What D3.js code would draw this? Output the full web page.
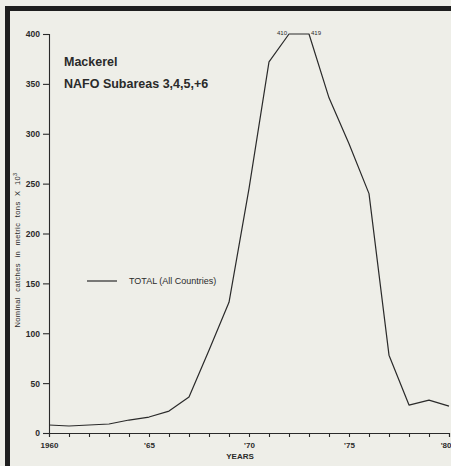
<!DOCTYPE html>
<html>
<head>
<meta charset="utf-8">
<script src="https://cdn.jsdelivr.net/npm/d3@7"></script>
<style>
  body { margin: 0; background: #eeeee8; }
  svg { display: block; font-family: "Liberation Sans", Arial, sans-serif; }
  .tick text { fill: #2a2a2a; }
</style>
</head>
<body>
<div id="chart"></div>
<script>
// values (thousand tons)
const years = [1960, 1961, 1962, 1963, 1964, 1965, 1966, 1967, 1968, 1969, 1970,
               1971, 1972, 1973, 1974, 1975, 1976, 1977, 1978, 1979, 1980];
const catches = [8, 7, 8, 9, 13, 16, 22, 36, 83, 131, 245,
                 372, 410, 419, 336, 290, 240, 78, 28, 33, 27];
const yTicks = [0, 50, 100, 150, 200, 250, 300, 350, 400];
const xLabels = { 1960: "1960", 1965: "'65", 1970: "'70", 1975: "'75", 1980: "'80" };

const width = 451, height = 466;
const ink = "#2a2a2a";
const yMax = 400;

const svg = d3.select("#chart").append("svg")
    .attr("width", width)
    .attr("height", height);

// scanned page frame (thick border left and top)
svg.append("rect").attr("x", 5).attr("y", 6).attr("width", 5).attr("height", height - 6).attr("fill", "#1e1e1e");
svg.append("rect").attr("x", 5).attr("y", 6).attr("width", width - 5).attr("height", 5).attr("fill", "#1e1e1e");

const x = d3.scaleLinear().domain([1960, 1980]).range([49, 449]);
const y = d3.scaleLinear().domain([0, yMax]).range([433, 34]);

// y axis
const yAxis = d3.axisLeft(y)
    .tickValues(yTicks)
    .tickSize(6)
    .tickPadding(3);
const gy = svg.append("g").attr("transform", `translate(${x(1960)},0)`).call(yAxis);
gy.selectAll("text").attr("font-size", 8.5).attr("font-weight", "bold").attr("dy", "0.35em");

// x axis
const xAxis = d3.axisBottom(x)
    .tickValues(years)
    .tickSize(4)
    .tickPadding(5)
    .tickFormat(d => xLabels[d] || "");
const gx = svg.append("g").attr("transform", `translate(0,${y(0)})`).call(xAxis);
gx.selectAll("text").attr("font-size", 8).attr("font-weight", "bold");
// keep the last label inside the page
gx.selectAll(".tick text").filter(d => d === 1980).attr("text-anchor", "end").attr("dx", 2);

svg.selectAll(".domain, .tick line").attr("stroke", ink).attr("stroke-width", 1.1);

// axis titles
svg.append("text")
    .attr("x", 240).attr("y", 459)
    .attr("text-anchor", "middle")
    .attr("font-size", 8).attr("font-weight", "bold")
    .attr("fill", ink)
    .text("YEARS");

const yLabel = svg.append("text")
    .attr("transform", "translate(20,250) rotate(-90)")
    .attr("text-anchor", "middle")
    .attr("font-size", 7.5)
    .attr("letter-spacing", 0.4)
    .attr("word-spacing", 3)
    .attr("fill", ink);
yLabel.append("tspan").text("Nominal catches in metric tons X 10");
yLabel.append("tspan").attr("font-size", 5.5).attr("dy", -3).text("3");

// titles
svg.append("text").attr("x", 64).attr("y", 66)
    .attr("font-size", 12.5).attr("font-weight", "bold").attr("fill", ink)
    .text("Mackerel");
svg.append("text").attr("x", 64).attr("y", 88)
    .attr("font-size", 12.5).attr("font-weight", "bold").attr("fill", ink)
    .text("NAFO Subareas 3,4,5,+6");

// legend
svg.append("line").attr("x1", 87).attr("x2", 117).attr("y1", 281).attr("y2", 281)
    .attr("stroke", ink).attr("stroke-width", 1.2);
svg.append("text").attr("x", 129).attr("y", 284)
    .attr("font-size", 9).attr("fill", ink)
    .text("TOTAL (All Countries)");

// line, held at the top of the scale where values run off it
const data = years.map((yr, i) => ({ year: yr, value: catches[i] }));
const line = d3.line().x(d => x(d.year)).y(d => y(Math.min(d.value, yMax)));

svg.append("path")
    .datum(data)
    .attr("fill", "none")
    .attr("stroke", ink)
    .attr("stroke-width", 1.2)
    .attr("stroke-linejoin", "round")
    .attr("d", line);

// off-scale peak values
const over = data.filter(d => d.value > yMax);
svg.selectAll(".peak")
    .data(over)
    .enter().append("text")
    .attr("class", "peak")
    .attr("x", (d, i) => x(d.year) + (i === 0 ? -2 : 2))
    .attr("y", y(yMax) + 1)
    .attr("text-anchor", (d, i) => i === 0 ? "end" : "start")
    .attr("font-size", 6)
    .attr("fill", ink)
    .text(d => d.value);
</script>
</body>
</html>
